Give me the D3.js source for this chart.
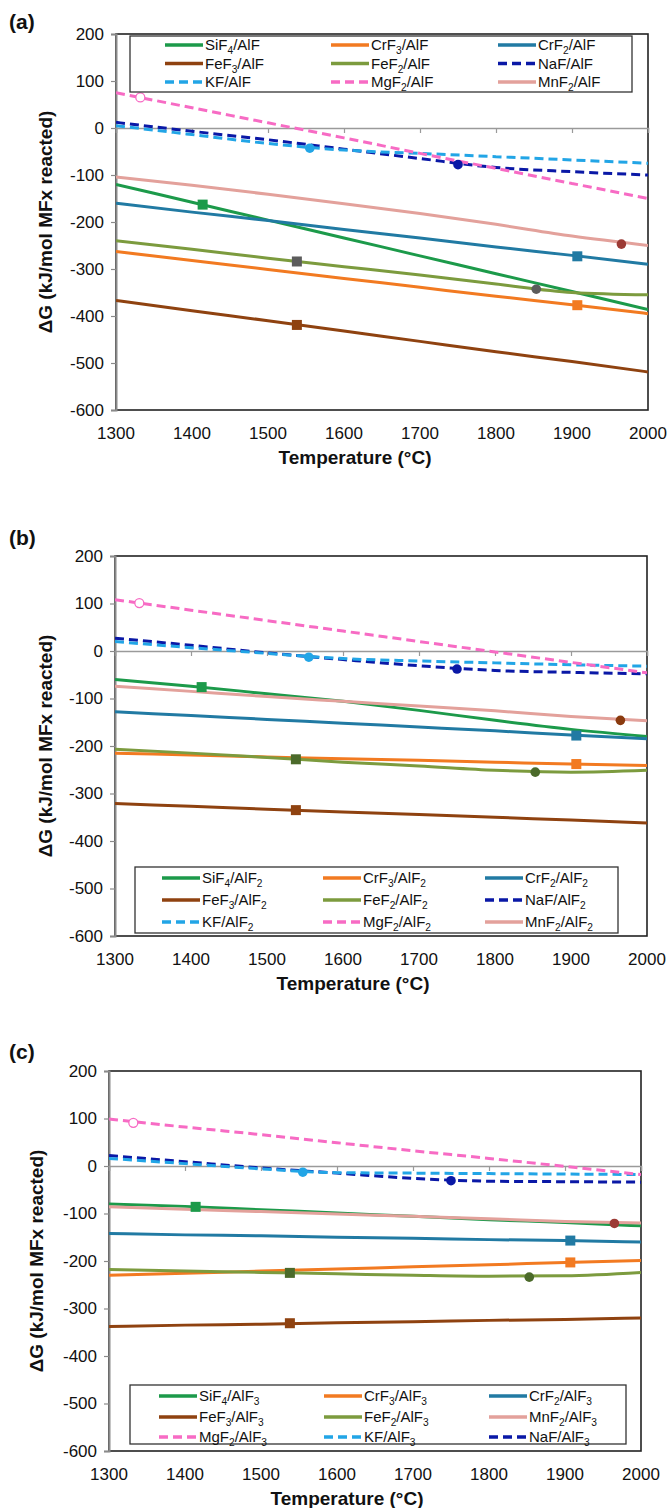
<!DOCTYPE html>
<html>
<head>
<meta charset="utf-8">
<script src="https://cdn.jsdelivr.net/npm/d3@7"></script>
<style>
  body { margin: 0; background: #fff; }
  svg { display: block; }
  text { font-family: "Liberation Sans", Arial, sans-serif; fill: #111; }
</style>
</head>
<body>
<div id="chart"></div>
<script>
// temperatures (°C) at which each curve is read
const temps = [1300, 1400, 1500, 1600, 1700, 1800, 1900, 2000];
const yTicks = [200, 100, 0, -100, -200, -300, -400, -500, -600];

// ΔG (kJ/mol MFx reacted) for each reactant pair, panel (a) AlF
const dgA = {
  SiF4: [-120, -158, -196, -234, -272, -310, -348, -386],
  CrF3: [-263, -282, -301, -320, -339, -358, -376, -395],
  CrF2: [-160, -179, -197, -216, -234, -253, -271, -290],
  FeF3: [-367, -389, -410, -432, -454, -476, -497, -519],
  FeF2: [-240, -258, -277, -295, -313, -332, -350, -355],
  NaF:  [12, -7, -25, -45, -65, -84, -93, -100],
  KF:   [5, -14, -33, -47, -54, -61, -68, -75],
  MgF2: [75, 43, 11, -21, -54, -86, -118, -150],
  MnF2: [-104, -122, -141, -161, -182, -205, -230, -250]
};
// panel (b) AlF2
const dgB = {
  SiF4: [-60, -74, -90, -106, -125, -146, -165, -180],
  CrF3: [-215, -219, -223, -227, -230, -234, -238, -241],
  CrF2: [-128, -136, -144, -152, -160, -168, -177, -185],
  FeF3: [-321, -327, -333, -339, -344, -350, -356, -362],
  FeF2: [-207, -215, -224, -234, -242, -251, -255, -251],
  NaF:  [27, 12, -4, -18, -31, -41, -45, -48],
  KF:   [20, 7, -5, -16, -21, -25, -29, -32],
  MgF2: [108, 86, 64, 42, 20, -2, -24, -46],
  MnF2: [-74, -85, -96, -106, -116, -126, -138, -147]
};
// panel (c) AlF3
const dgC = {
  SiF4: [-80, -85, -92, -99, -106, -113, -119, -126],
  CrF3: [-230, -226, -221, -217, -212, -208, -203, -199],
  CrF2: [-142, -145, -147, -150, -152, -155, -157, -160],
  FeF3: [-338, -335, -333, -330, -328, -325, -323, -320],
  FeF2: [-218, -221, -224, -227, -230, -232, -231, -224],
  NaF:  [22, 9, -4, -15, -26, -32, -33, -34],
  KF:   [16, 5, -6, -14, -15, -16, -17, -18],
  MgF2: [99, 82, 66, 49, 32, 16, -1, -18],
  MnF2: [-86, -91, -96, -101, -106, -111, -117, -120]
};

// marker temperatures and the ΔG read at each marker
const markTemps = { SiF4: [1414], CrF3: [1907], CrF2: [1907], FeF3: [1538], FeF2: [1538, 1853],
                    NaF: [1750], KF: [1555], MgF2: [1332], MnF2: [1965] };
const markA = { SiF4: [-163], CrF3: [-377], CrF2: [-273], FeF3: [-419], FeF2: [-284, -343],
                NaF: [-78], KF: [-43], MgF2: [65], MnF2: [-247] };
const markB = { SiF4: [-76], CrF3: [-238], CrF2: [-178], FeF3: [-335], FeF2: [-228, -255],
                NaF: [-38], KF: [-13], MgF2: [101], MnF2: [-146] };
const markC = { SiF4: [-86], CrF3: [-203], CrF2: [-157], FeF3: [-331], FeF2: [-225, -234],
                NaF: [-31], KF: [-13], MgF2: [91], MnF2: [-121] };

const orderAB = ["SiF4", "CrF3", "CrF2", "FeF3", "FeF2", "NaF", "KF", "MgF2", "MnF2"];
const orderC  = ["SiF4", "CrF3", "CrF2", "FeF3", "FeF2", "MnF2", "MgF2", "KF", "NaF"];
const labelStem = { SiF4: "SiF_4", CrF3: "CrF_3", CrF2: "CrF_2", FeF3: "FeF_3", FeF2: "FeF_2",
                    NaF: "NaF", KF: "KF", MgF2: "MgF_2", MnF2: "MnF_2" };

// line styles
const style = {
  SiF4: { c: "#1c9a4a", dash: null },
  CrF3: { c: "#f27a21", dash: null },
  CrF2: { c: "#217aa3", dash: null },
  FeF3: { c: "#8f4210", dash: null },
  FeF2: { c: "#7c9b3e", dash: null },
  NaF:  { c: "#0a18a6", dash: "9,5" },
  KF:   { c: "#22a5e6", dash: "9,5" },
  MgF2: { c: "#f76bc4", dash: "9,5" },
  MnF2: { c: "#e3a19b", dash: null }
};
const markShape = { SiF4: ["sq"], CrF3: ["sq"], CrF2: ["sq"], FeF3: ["sq"], FeF2: ["sq", "ci"],
                    NaF: ["ci"], KF: ["ci"], MgF2: ["open"], MnF2: ["ci"] };

const panels = [
  { tag: "(a)", dg: dgA, mk: markA, suffix: "/AlF", order: orderAB,
    left: 116, right: 648, top: 34, bottom: 410, tagY: 29, titleX: 45, tempX: 355,
    feMark: "#5c5c5c", mnMark: "#9c3a35",
    legend: { x0: 130, x1: 632, y0: 36, y1: 92, cols: [165, 331, 498], rows: [45, 63.5, 82] } },
  { tag: "(b)", dg: dgB, mk: markB, suffix: "/AlF_2", order: orderAB,
    left: 115, right: 647, top: 556, bottom: 936, tagY: 545, titleX: 45, tempX: 353,
    feMark: "#4b6a2a", mnMark: "#8a3a0e",
    legend: { x0: 135, x1: 618, y0: 867, y1: 933, cols: [162, 323, 485], rows: [878, 900, 922] } },
  { tag: "(c)", dg: dgC, mk: markC, suffix: "/AlF_3", order: orderC,
    left: 109, right: 641, top: 1071, bottom: 1451, tagY: 1059, titleX: 36, tempX: 347,
    feMark: "#4b6a2a", mnMark: "#9c3a35",
    legend: { x0: 130, x1: 626, y0: 1385, y1: 1444, cols: [159, 324, 489], rows: [1396, 1417, 1437] } }
];

const svg = d3.select("#chart").append("svg")
  .attr("width", 667).attr("height", 1508);
svg.append("rect").attr("width", 667).attr("height", 1508).attr("fill", "#fff");

// write text with "_n" as subscript
function richText(sel, str) {
  const parts = str.split(/_(\d)/);
  parts.forEach((p, i) => {
    if (!p) return;
    if (i % 2 === 1) sel.append("tspan").attr("font-size", "0.68em").attr("dy", 4).text(p);
    else sel.append("tspan").attr("dy", i > 0 ? -4 : 0).text(p);
  });
}

panels.forEach((p, pi) => {
  const g = svg.append("g");
  const x = d3.scaleLinear().domain([1300, 2000]).range([p.left, p.right]);
  const y = d3.scaleLinear().domain([-600, 200]).range([p.bottom, p.top]);

  const clipId = "clip" + pi;
  g.append("clipPath").attr("id", clipId).append("rect")
    .attr("x", p.left).attr("y", p.top).attr("width", p.right - p.left).attr("height", p.bottom - p.top);

  // frame
  g.append("rect")
    .attr("x", p.left).attr("y", p.top)
    .attr("width", p.right - p.left).attr("height", p.bottom - p.top)
    .attr("fill", "none").attr("stroke", "#222").attr("stroke-width", 1.6);

  // y axis (plain hyphen minus, as in the original)
  const yAxis = g.append("g").attr("transform", `translate(${p.left},0)`)
    .call(d3.axisLeft(y).tickValues(yTicks).tickSize(5).tickPadding(7).tickFormat(d => String(d)));
  yAxis.select(".domain").attr("stroke", "#8a8a8a").attr("stroke-width", 2);
  yAxis.selectAll(".tick line").attr("stroke", "#8a8a8a").attr("stroke-width", 1.2);
  yAxis.selectAll(".tick text").attr("font-size", 17).attr("fill", "#111")
    .attr("font-family", "Liberation Sans, Arial, sans-serif");

  // x axis drawn along ΔG = 0, labels at the bottom
  const xAxis = g.append("g").attr("transform", `translate(0,${y(0)})`)
    .call(d3.axisBottom(x).tickValues(temps).tickSize(5).tickFormat(""));
  xAxis.select(".domain").attr("stroke", "#9a9a9a").attr("stroke-width", 1.5);
  xAxis.selectAll(".tick line").attr("stroke", "#9a9a9a").attr("stroke-width", 1.2);

  g.selectAll(".xlab").data(temps).join("text")
    .attr("x", d => x(d)).attr("y", p.bottom + 29)
    .attr("text-anchor", "middle").attr("font-size", 17)
    .text(d => d);

  // titles
  g.append("text").attr("x", p.tempX).attr("y", p.bottom + 54)
    .attr("text-anchor", "middle").attr("font-size", 19).attr("font-weight", "bold")
    .text("Temperature (°C)");
  g.append("text")
    .attr("transform", `translate(${p.titleX},${(p.top + p.bottom) / 2}) rotate(-90)`)
    .attr("text-anchor", "middle").attr("dominant-baseline", "central")
    .attr("font-size", 19).attr("font-weight", "bold")
    .text("ΔG (kJ/mol MFx reacted)");
  g.append("text").attr("x", 9).attr("y", p.tagY)
    .attr("font-size", 21).attr("font-weight", "bold").text(p.tag);

  // curves: solid first, dashed on top
  const line = d3.line().x((d, i) => x(temps[i])).y(d => y(d)).curve(d3.curveMonotoneX);
  const names = orderAB.slice().sort((a, b) => (style[a].dash ? 1 : 0) - (style[b].dash ? 1 : 0));
  g.append("g").attr("clip-path", `url(#${clipId})`)
    .selectAll("path").data(names).join("path")
    .attr("d", n => line(p.dg[n]))
    .attr("fill", "none")
    .attr("stroke", n => style[n].c)
    .attr("stroke-width", 3)
    .attr("stroke-dasharray", n => style[n].dash);

  // markers
  const marks = [];
  orderAB.forEach(n => markTemps[n].forEach((t, k) =>
    marks.push({ n, t, v: p.mk[n][k], shape: markShape[n][k] })));
  const mg = g.append("g");
  const markColor = m => m.n === "FeF2" ? p.feMark : m.n === "MnF2" ? p.mnMark : style[m.n].c;
  mg.selectAll("rect").data(marks.filter(m => m.shape === "sq")).join("rect")
    .attr("x", m => x(m.t) - 5).attr("y", m => y(m.v) - 5)
    .attr("width", 10).attr("height", 10)
    .attr("fill", markColor);
  mg.selectAll("circle.f").data(marks.filter(m => m.shape === "ci")).join("circle")
    .attr("class", "f")
    .attr("cx", m => x(m.t)).attr("cy", m => y(m.v)).attr("r", 4.8)
    .attr("fill", markColor);
  mg.selectAll("circle.o").data(marks.filter(m => m.shape === "open")).join("circle")
    .attr("class", "o")
    .attr("cx", m => x(m.t)).attr("cy", m => y(m.v)).attr("r", 4.5)
    .attr("fill", "#fff").attr("stroke", m => style[m.n].c).attr("stroke-width", 1.3);

  // legend
  const L = p.legend;
  const lg = g.append("g");
  lg.append("rect").attr("x", L.x0).attr("y", L.y0)
    .attr("width", L.x1 - L.x0).attr("height", L.y1 - L.y0)
    .attr("fill", "#fff").attr("stroke", "#333").attr("stroke-width", 1.3);
  p.order.forEach((n, i) => {
    const cx = L.cols[i % 3], cy = L.rows[Math.floor(i / 3)];
    lg.append("line").attr("x1", cx).attr("x2", cx + 38).attr("y1", cy).attr("y2", cy)
      .attr("stroke", style[n].c).attr("stroke-width", 3.5)
      .attr("stroke-dasharray", style[n].dash);
    const t = lg.append("text").attr("x", cx + 40).attr("y", cy + 5).attr("font-size", 15);
    richText(t, labelStem[n] + p.suffix);
  });
});
</script>
</body>
</html>
